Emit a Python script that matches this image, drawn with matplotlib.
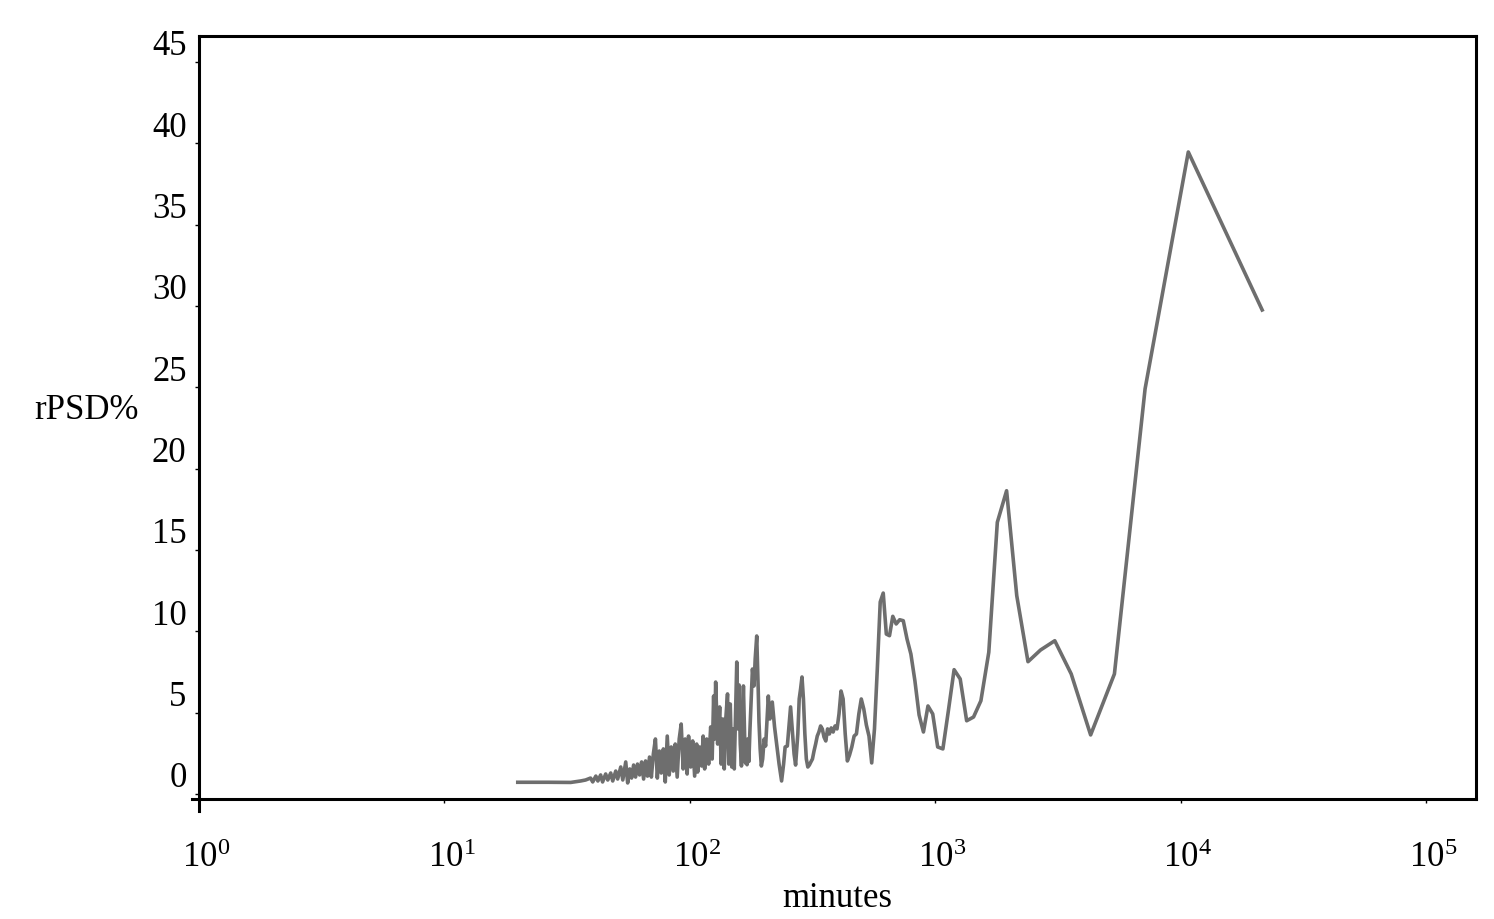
import matplotlib
matplotlib.use("Agg")
import matplotlib.pyplot as plt
import matplotlib.transforms as mtransforms

plt.rcParams["font.family"] = ["Liberation Serif", "DejaVu Serif"]
plt.rcParams["mathtext.fontset"] = "custom"
plt.rcParams["mathtext.rm"] = "Liberation Serif"
plt.rcParams["mathtext.it"] = "Liberation Serif:italic"

# period (minutes) and relative PSD (%)
minutes = [
    19.9, 26.4, 32.7, 35.9, 37.6, 39.4, 40.2, 41.4, 42.2, 43.3,
    44.1, 45.4, 46.3, 47.6, 48.5, 49.9, 50.8, 52.3, 53.3, 54.8,
    55.8, 56.9, 57.9, 59.0, 60.1, 61.2, 62.4, 63.6, 64.8, 66.0,
    67.2, 68.5, 69.7, 71.0, 72.4, 73.7, 75.1, 76.5, 78.0, 79.4,
    80.9, 82.4, 84.0, 85.6, 87.2, 88.8, 90.5, 92.2, 93.9, 95.7,
    97.5, 98.8, 100.8, 102.7, 104.6, 106.6, 107.6, 109.6, 111.7, 113.3,
    114.9, 117.1, 119.3, 121.6, 123.3, 125.0, 126.2, 127.4, 129.8, 132.3,
    134.1, 136.2, 138.1, 140.1, 142.4, 144.1, 146.1, 148.2, 150.3, 151.7,
    155.3, 156.8, 158.7, 160.5, 162.3, 165.3, 167.3, 168.5, 169.7, 171.0,
    172.1, 174.0, 175.8, 179.9, 182.6, 184.6, 187.3, 189.9, 191.3, 193.4,
    195.6, 198.0, 200.8, 203.6, 206.5, 208.8, 211.9, 216.7, 221.4, 227.1,
    231.0, 236.5, 241.0, 244.5, 249.6, 253.8, 257.3, 262.2, 265.9, 269.7,
    275.4, 279.0, 282.6, 286.4, 290.3, 294.2, 298.3, 302.5, 306.9, 311.3,
    315.9, 320.6, 325.5, 330.5, 335.6, 341.0, 346.5, 352.1, 358.0, 364.1,
    370.3, 376.8, 383.6, 390.5, 397.8, 405.3, 413.1, 421.2, 429.6, 438.4,
    447.5, 457.0, 467.0, 477.3, 488.2, 499.5, 511.4, 523.9, 537.0, 550.8,
    565.3, 580.5, 596.7, 613.7, 631.8, 650.9, 671.3, 692.9, 716.0, 740.7,
    767.1, 795.6, 826.2, 859.2, 895.0, 933.9, 976.4, 1022.9, 1074.0, 1130.5,
    1193.3, 1263.5, 1342.5, 1432.0, 1534.3, 1652.3, 1790.0, 1952.7, 2148.0, 2386.7,
    2685.0, 3068.6, 3580.0, 4296.0, 5370.0, 7160.0, 10740.0, 21480.0,
]
rpsd = [
    0.72, 0.72, 0.71, 0.80, 0.86, 0.98, 0.74, 1.10, 0.80, 1.17,
    0.74, 1.23, 0.86, 1.29, 0.80, 1.41, 0.92, 1.66, 0.86, 1.97,
    0.68, 1.54, 0.98, 1.78, 1.04, 1.84, 1.17, 1.97, 0.92, 2.03,
    1.10, 2.27, 1.04, 2.46, 3.38, 0.98, 2.64, 1.29, 2.77, 0.74,
    3.56, 1.17, 2.89, 1.41, 3.07, 1.04, 3.38, 4.30, 1.54, 3.38,
    1.23, 3.56, 1.66, 3.26, 1.10, 3.07, 1.35, 2.89, 1.72, 3.56,
    1.54, 3.38, 1.84, 4.12, 2.15, 6.02, 3.38, 6.88, 3.07, 5.35,
    1.84, 4.61, 1.54, 4.61, 6.15, 1.84, 5.53, 1.66, 4.00, 1.54,
    8.11, 4.00, 6.70, 3.07, 1.72, 6.64, 3.38, 1.90, 3.20, 1.80,
    3.38, 2.00, 4.00, 7.68, 6.64, 8.30, 9.71, 6.45, 4.43, 2.77,
    1.72, 2.15, 3.38, 2.95, 4.61, 6.02, 4.61, 5.65, 4.12, 2.77,
    1.84, 0.80, 1.84, 2.89, 2.95, 4.30, 5.35, 3.69, 2.46, 1.78,
    3.69, 5.84, 6.45, 7.19, 5.84, 3.69, 2.15, 1.66, 1.78, 1.97,
    2.15, 2.64, 3.07, 3.56, 3.81, 4.18, 4.00, 3.50, 3.26, 4.00,
    3.69, 4.06, 3.81, 4.18, 4.00, 4.92, 6.33, 5.84, 3.69, 2.03,
    2.40, 2.89, 3.56, 3.69, 4.92, 5.84, 5.22, 4.24, 3.56, 1.91,
    4.00, 7.68, 11.80, 12.35, 9.83, 9.73, 10.92, 10.45, 10.71, 10.65,
    9.53, 8.60, 6.95, 4.86, 3.81, 5.41, 4.92, 2.89, 2.77, 5.10,
    7.64, 7.07, 4.50, 4.73, 5.73, 8.71, 16.70, 18.64, 12.19, 8.13,
    8.85, 9.42, 7.38, 3.63, 7.38, 24.90, 39.46, 29.75,
]

y_ticks = [0, 5, 10, 15, 20, 25, 30, 35, 40, 45]
x_exponents = [0, 1, 2, 3, 4, 5]
x_ticks = [10.0 ** e for e in x_exponents]
x_labels = [r"$10^{%d}$" % e for e in x_exponents]

fig = plt.figure(figsize=(14.94, 9.2), dpi=100)
ax = fig.add_axes([0.1332, 0.1304, 0.8548, 0.8294])

ax.plot(minutes, rpsd, color="#6e6e6e", linewidth=2.6)

ax.set_xscale("log")
ax.set_xlim(1.0, 1.598e5)
ax.set_ylim(-0.31, 46.59)

ax.set_xticks(x_ticks)
ax.set_xticklabels(x_labels)
ax.xaxis.set_minor_locator(matplotlib.ticker.NullLocator())
ax.set_yticks(y_ticks)
ax.set_yticklabels([str(v) for v in y_ticks])

ax.tick_params(axis="both", direction="out", length=3, width=1,
               labelsize=25, colors="black")
ax.tick_params(axis="x", pad=27)
ax.tick_params(axis="y", pad=6)
ax.tick_params(top=False, right=False)
for t in ax.get_xticklines() + ax.get_yticklines():
    t.set_color("#aaaaaa")

for sp in ax.spines.values():
    sp.set_linewidth(2.2)
    sp.set_color("black")
ax.spines["left"].set_bounds(-1.05, 46.59)
ax.spines["bottom"].set_bounds(0.936, 1.598e5)

# labels sit a bit above / right of their tick marks in the original
y_off = mtransforms.ScaledTranslation(0, 0.20, fig.dpi_scale_trans)
for lab in ax.get_yticklabels():
    lab.set_transform(lab.get_transform() + y_off)
x_off = mtransforms.ScaledTranslation(0.07, 0, fig.dpi_scale_trans)
for lab in ax.get_xticklabels():
    lab.set_transform(lab.get_transform() + x_off)

ax.set_xlabel("minutes", fontsize=25, labelpad=5)
ax.set_ylabel("rPSD%", fontsize=25, rotation=0, ha="center", va="center")
ax.yaxis.set_label_coords(-0.0881, 0.511)

fig.savefig("out.png", dpi=100)
